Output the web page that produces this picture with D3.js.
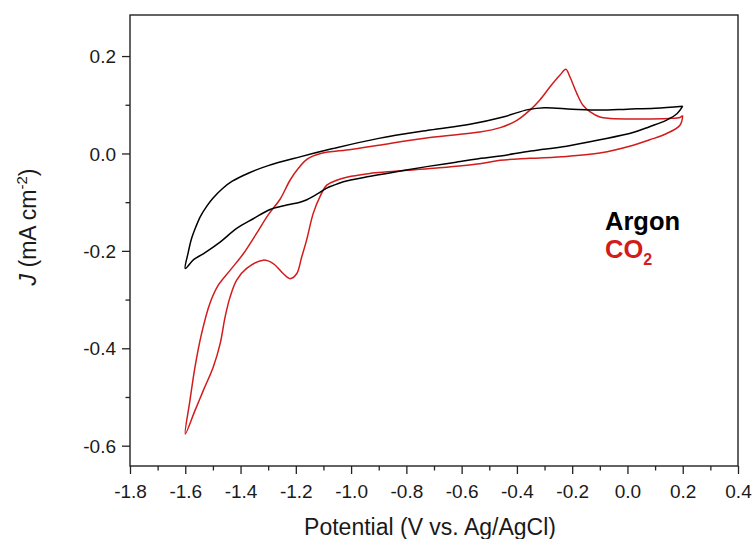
<!DOCTYPE html>
<html>
<head>
<meta charset="utf-8">
<script src="https://cdn.jsdelivr.net/npm/d3@7/dist/d3.min.js"></script>
<style>
  html, body { margin: 0; padding: 0; background: #fff; }
  svg { display: block; font-family: "Liberation Sans", Arial, sans-serif; }
</style>
</head>
<body>
<svg id="chart" width="754" height="539"></svg>
<script>
// Cyclic voltammograms: potential (V vs. Ag/AgCl) and current density (mA cm^-2),
// each listed in sweep order starting from the +0.2 V vertex.
const argonE = [0.20, 0.18, 0.14, 0.08, 0.02, -0.10, -0.22, -0.35, -0.46, -0.53, -0.62, -0.715, -0.80, -0.93, -1.028, -1.066, -1.088, -1.113, -1.137, -1.16, -1.185, -1.233, -1.293, -1.354, -1.414, -1.474, -1.535, -1.57, -1.60,
                -1.590, -1.578, -1.562, -1.545, -1.522, -1.50, -1.465, -1.43, -1.37, -1.30, -1.185, -1.066, -0.90, -0.715, -0.57, -0.45, -0.36, -0.30, -0.20, -0.10, 0.00, 0.10, 0.20];
const argonJ = [0.097, 0.082, 0.068, 0.055, 0.043, 0.028, 0.015, 0.005, -0.005, -0.010, -0.018, -0.026, -0.034, -0.047, -0.058, -0.066, -0.071, -0.080, -0.088, -0.095, -0.100, -0.106, -0.115, -0.134, -0.154, -0.182, -0.206, -0.218, -0.236,
                -0.205, -0.176, -0.151, -0.129, -0.108, -0.092, -0.072, -0.057, -0.040, -0.025, -0.007, 0.010, 0.031, 0.048, 0.060, 0.075, 0.090, 0.094, 0.091, 0.089, 0.091, 0.093, 0.097];

const co2E = [0.20, 0.19, 0.142, 0.08, 0.021, -0.10, -0.22, -0.353, -0.461, -0.534, -0.715, -0.932, -1.00, -1.052, -1.088, -1.113, -1.137, -1.161, -1.179, -1.197, -1.221, -1.245, -1.282, -1.318, -1.378, -1.414, -1.438, -1.456, -1.474, -1.499, -1.535, -1.565, -1.60,
              -1.583, -1.565, -1.541, -1.511, -1.48, -1.438, -1.39, -1.342, -1.30, -1.257, -1.221, -1.19, -1.16, -1.11, -1.00, -0.90, -0.715, -0.534, -0.46, -0.40, -0.353, -0.317, -0.280, -0.244, -0.223, -0.208, -0.183, -0.161, -0.136, -0.10, -0.063, 0.05, 0.15, 0.19, 0.20];
const co2J = [0.078, 0.058, 0.041, 0.028, 0.017, 0.001, -0.006, -0.010, -0.014, -0.021, -0.031, -0.041, -0.047, -0.055, -0.065, -0.089, -0.123, -0.178, -0.213, -0.247, -0.257, -0.247, -0.226, -0.219, -0.236, -0.260, -0.295, -0.336, -0.391, -0.439, -0.487, -0.528, -0.576,
              -0.507, -0.439, -0.370, -0.308, -0.270, -0.240, -0.206, -0.164, -0.126, -0.094, -0.055, -0.030, -0.012, 0.000, 0.008, 0.017, 0.033, 0.044, 0.053, 0.068, 0.089, 0.110, 0.137, 0.161, 0.173, 0.157, 0.123, 0.099, 0.086, 0.075, 0.072, 0.071, 0.072, 0.074, 0.078];

const xTicks = [-1.8, -1.6, -1.4, -1.2, -1.0, -0.8, -0.6, -0.4, -0.2, 0.0, 0.2, 0.4];
const yTicks = [-0.6, -0.4, -0.2, 0.0, 0.2];
const xMinor = [-1.7, -1.5, -1.3, -1.1, -0.9, -0.7, -0.5, -0.3, -0.1, 0.1, 0.3];
const yMinor = [-0.5, -0.3, -0.1, 0.1];

const seriesNames = ["Argon", "CO2"];
const seriesColors = ["#000000", "#d21c1c"];

const svg = d3.select("#chart");
const plot = { left: 130, right: 738, top: 15, bottom: 466 };

const x = d3.scaleLinear().domain([-1.8, 0.4]).range([plot.left, plot.right]);
const y = d3.scaleLinear().domain([-0.6417, 0.2843]).range([plot.bottom, plot.top]);

const fmt = d => d.toFixed(1);

// Axes: outward major ticks with labels, shorter unlabeled minor ticks
const xAxisG = svg.append("g").attr("transform", `translate(0,${plot.bottom})`)
  .call(d3.axisBottom(x).tickValues(xTicks).tickFormat(fmt).tickSize(8).tickSizeOuter(0));
svg.append("g").attr("transform", `translate(0,${plot.bottom})`)
  .call(d3.axisBottom(x).tickValues(xMinor).tickFormat("").tickSize(4.5).tickSizeOuter(0));

const yAxisG = svg.append("g").attr("transform", `translate(${plot.left},0)`)
  .call(d3.axisLeft(y).tickValues(yTicks).tickFormat(fmt).tickSize(8).tickSizeOuter(0));
svg.append("g").attr("transform", `translate(${plot.left},0)`)
  .call(d3.axisLeft(y).tickValues(yMinor).tickFormat("").tickSize(4.5).tickSizeOuter(0));

svg.selectAll(".domain").remove();
svg.selectAll(".tick line").attr("stroke", "#222").attr("stroke-width", 1.3);
svg.selectAll(".tick text").attr("fill", "#1a1a1a").style("font-size", "19px");
xAxisG.selectAll(".tick text").attr("y", 0).attr("dy", 32);
yAxisG.selectAll(".tick text").attr("x", -14).attr("dy", "0.35em");

// Frame around the plotting area
svg.append("rect")
  .attr("x", plot.left).attr("y", plot.top)
  .attr("width", plot.right - plot.left).attr("height", plot.bottom - plot.top)
  .attr("fill", "none").attr("stroke", "#222").attr("stroke-width", 1.4);

// Voltammogram curves
const line = d3.line().x(d => x(d[0])).y(d => y(d[1])).curve(d3.curveCatmullRom.alpha(0.5));
const argon = argonE.map((e, i) => [e, argonJ[i]]);
const co2 = co2E.map((e, i) => [e, co2J[i]]);

svg.append("path").datum(co2).attr("d", line)
  .attr("fill", "none").attr("stroke", seriesColors[1]).attr("stroke-width", 1.5).attr("stroke-linejoin", "round");
svg.append("path").datum(argon).attr("d", line)
  .attr("fill", "none").attr("stroke", seriesColors[0]).attr("stroke-width", 1.5).attr("stroke-linejoin", "round");

// Legend as coloured labels
svg.append("text").attr("x", 605).attr("y", 230)
  .attr("fill", seriesColors[0]).style("font-size", "25.5px").style("font-weight", "bold")
  .text(seriesNames[0]);
const co2Label = svg.append("text").attr("x", 605).attr("y", 258)
  .attr("fill", seriesColors[1]).style("font-size", "25.5px").style("font-weight", "bold");
co2Label.append("tspan").text("CO");
co2Label.append("tspan").attr("dy", 7).style("font-size", "16px").text("2");

// Axis titles
svg.append("text").attr("x", 430).attr("y", 535).attr("text-anchor", "middle")
  .attr("fill", "#1a1a1a").style("font-size", "23px")
  .text("Potential (V vs. Ag/AgCl)");

const yTitle = svg.append("text")
  .attr("transform", "translate(36,227) rotate(-90)")
  .attr("text-anchor", "middle").attr("fill", "#1a1a1a").style("font-size", "23px");
yTitle.append("tspan").style("font-style", "italic").text("J");
yTitle.append("tspan").text(" (mA cm");
yTitle.append("tspan").attr("dy", -9).style("font-size", "15px").text("-2");
yTitle.append("tspan").attr("dy", 9).text(")");
</script>
</body>
</html>
